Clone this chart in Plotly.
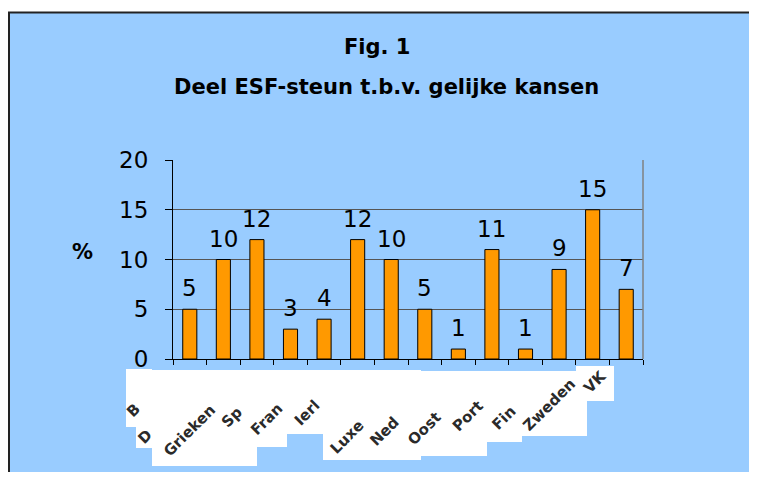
import plotly.graph_objects as go

# data
landen = ["België", "Denemarken", "Griekenland", "Spanje", "Frankrijk", "Ierland", "Italië",
          "Luxemburg", "Nederland", "Oostenrijk", "Portugal", "Finland", "Zweden", "VK"]
aandeel = [5, 10, 12, 3, 4, 12, 10, 5, 1, 11, 1, 9, 15, 7]

# de as-labels zijn in het origineel afgekapt (witte vlakken eroverheen)
label_stukjes = ["B", "D", "Grieken", "Sp", "Fran", "Ierl", "Luxe", "Ned", "Oost", "Port", "Fin", "Zweden", "VK"]
label_pos = [(133, 411), (145, 437), (189, 431), (232, 417), (267, 419), (307, 413), (347, 437),
             (384, 432), (424, 429), (468, 416), (504, 418), (549, 405), (595, 382)]
# witte vlakken achter de labels (pixels: x0, x1, y0, y1)
witte_vlakken = [(126, 136, 369, 427), (136, 152, 369, 448), (152, 257, 370, 466), (257, 287, 370, 447),
                 (287, 323, 370, 434), (323, 421, 370, 460), (421, 487, 371, 456), (487, 522, 371, 442),
                 (522, 587, 371, 436), (576, 614, 366, 401)]

# pagina heeft 8px marge: figuur begint op (8, 8)
OFF = 8
W, H = 757, 480
FIG_W = W - 2 * OFF
FIG_H = H - 2 * OFF
L, R, T, B = 173, 643, 160, 359
FONT = "DejaVu Sans, sans-serif"


def px(x):
    return (x - L) / (R - L)


def py(y):
    return (B - y) / (B - T)


fig = go.Figure(go.Bar(
    x=landen,
    y=aandeel,
    marker=dict(color="#FF9900", line=dict(color="black", width=1)),
    hoverinfo="x+y",
))

# waarden boven de staven
annotations = []
for land, v in zip(landen, aandeel):
    annotations.append(dict(x=land, y=v, xref="x", yref="y", text=str(v), showarrow=False,
                            yanchor="bottom", yshift=6, font=dict(size=23, family=FONT, color="black")))


def tekst(txt, x, y, size, **kw):
    return dict(x=px(x), y=py(y), xref="paper", yref="paper", text=txt, showarrow=False,
                xanchor="center", yanchor="middle", font=dict(size=size, family=FONT, color=kw.pop("color", "black")), **kw)


# titel
annotations.append(tekst("<b>Fig. 1</b>", 377, 47, 21))
annotations.append(tekst("<b>Deel ESF-steun t.b.v. gelijke kansen</b>", 386, 87, 21))
annotations.append(tekst("<b>%</b>", 82, 252, 21))

for txt, (cx, cy) in zip(label_stukjes, label_pos):
    annotations.append(tekst("<b>" + txt + "</b>", cx, cy, 15, textangle=-45, color="#2a2a2a"))

shapes = [
    # blauw kader (rechts en onder valt buiten beeld)
    dict(type="rect", xref="paper", yref="paper", x0=px(9), x1=px(W + 30), y0=py(12.5), y1=py(H + 30),
         fillcolor="#99CCFF", line=dict(color="#222222", width=2), layer="below"),
    # rechterrand plotvlak
    dict(type="line", xref="paper", yref="paper", x0=1, x1=1, y0=0, y1=1,
         line=dict(color="#808080", width=1.5), layer="above"),
]
for x0, x1, y0, y1 in witte_vlakken:
    shapes.append(dict(type="rect", xref="paper", yref="paper", x0=px(x0), x1=px(x1), y0=py(y1), y1=py(y0),
                       fillcolor="white", line=dict(width=0), layer="below"))

fig.update_layout(
    width=FIG_W, height=FIG_H,
    margin=dict(l=L - OFF, r=FIG_W + OFF - R, t=T - OFF, b=FIG_H + OFF - B),
    paper_bgcolor="white",
    plot_bgcolor="#FCF0DC",
    bargap=0.58,
    showlegend=False,
    font=dict(family=FONT, color="black"),
    annotations=annotations,
    shapes=shapes,
)
fig.update_xaxes(
    showticklabels=False,
    ticks="outside", tickson="boundaries", ticklen=5, tickcolor="black",
    showline=True, linecolor="black", linewidth=1,
    showgrid=False, zeroline=False,
)
fig.update_yaxes(
    range=[0, 20], dtick=5,
    ticks="outside", ticklen=7, tickcolor="black",
    tickfont=dict(size=23, family=FONT, color="black"),
    ticklabelstandoff=12,
    showline=True, linecolor="black", linewidth=1,
    showgrid=True, gridcolor="#555555", gridwidth=1,
    zeroline=False,
)

fig.write_html("out.html")
